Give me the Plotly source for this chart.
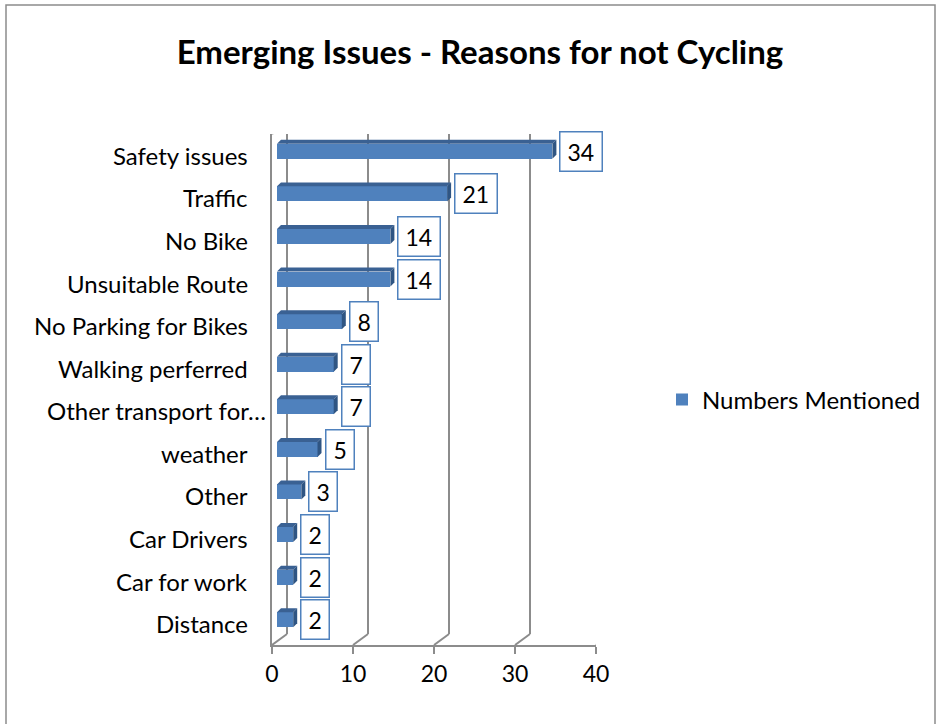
import plotly.graph_objects as go

# ---------------- data ----------------
categories = ["Safety issues", "Traffic", "No Bike", "Unsuitable Route",
              "No Parking for Bikes", "Walking perferred", "Other transport for…",
              "weather", "Other", "Car Drivers", "Car for work", "Distance"]
values = [34, 21, 14, 14, 8, 7, 7, 5, 3, 2, 2, 2]
x_ticks = [0, 10, 20, 30, 40]
series_name = "Numbers Mentioned"
title = "Emerging Issues - Reasons for not Cycling"

# ---------------- geometry / style ----------------
W, H = 939, 724
L, R, T, B = 272, 596, 134, 645          # front plane of plot area (px)
XMIN, XMAX = 0, 40
n = len(categories)
YMIN, YMAX = -0.5, n - 0.5
ux = (XMAX - XMIN) / (R - L)             # data units per px (x)
uy = (YMAX - YMIN) / (B - T)             # data units per px (y)

WALL_DX, WALL_DY = 15 * ux, 11 * uy      # depth of back wall
BAR_X0 = 5 * ux                          # bar front face offset
BAR_YS = 4 * uy                          # bar front face raised
BAR_W = 15 * uy
BAR_DX, BAR_DY = 4 * ux, 4 * uy          # bar depth

GRID = "#8C8C8C"
BLUE = "#4F81BD"
TOP = "#3A6193"
SIDE = "#2F5583"
FONT = "Lato"

pos = [n - 1 - i for i in range(n)]

def px2px(px):  # paper x from pixel
    return (px - L) / (R - L)

def py2py(py):  # paper y from pixel
    return (B - py) / (B - T)

fig = go.Figure()

fig.add_trace(go.Bar(
    y=[p + BAR_YS for p in pos], x=values, base=BAR_X0, orientation="h",
    width=BAR_W, marker=dict(color=BLUE, line=dict(width=0)),
    name=series_name, showlegend=True, hoverinfo="x"))

shapes = []
# back wall gridlines and floor diagonals
for v in x_ticks:
    shapes.append(dict(type="line", xref="x", yref="y",
                       x0=v + WALL_DX, x1=v + WALL_DX, y0=YMIN + WALL_DY, y1=YMAX + WALL_DY,
                       line=dict(color=GRID, width=2), layer="below"))
    shapes.append(dict(type="line", xref="x", yref="y",
                       x0=v, x1=v + WALL_DX, y0=YMIN, y1=YMIN + WALL_DY,
                       line=dict(color=GRID, width=2), layer="below"))
# top-left diagonal of side wall
shapes.append(dict(type="line", xref="x", yref="y",
                   x0=XMIN, x1=XMIN + WALL_DX, y0=YMAX, y1=YMAX + WALL_DY,
                   line=dict(color=GRID, width=2), layer="below"))
# y tick marks at category boundaries
for k in range(n + 1):
    yb = YMIN + k
    shapes.append(dict(type="line", xref="x", yref="y",
                       x0=XMIN - 7 * ux, x1=XMIN, y0=yb, y1=yb,
                       line=dict(color=GRID, width=2)))
# 3D faces of the bars
for p, v in zip(pos, values):
    yc = p + BAR_YS
    yb, yt = yc - BAR_W / 2, yc + BAR_W / 2
    x0, x1 = BAR_X0, BAR_X0 + v
    shapes.append(dict(type="path", xref="x", yref="y",
                       path=f"M{x0},{yt} L{x1},{yt} L{x1 + BAR_DX},{yt + BAR_DY} L{x0 + BAR_DX},{yt + BAR_DY} Z",
                       fillcolor=TOP, line=dict(width=0)))
    shapes.append(dict(type="path", xref="x", yref="y",
                       path=f"M{x1},{yb} L{x1},{yt} L{x1 + BAR_DX},{yt + BAR_DY} L{x1 + BAR_DX},{yb + BAR_DY} Z",
                       fillcolor=SIDE, line=dict(width=0)))
# outer chart border (open at bottom)
shapes.append(dict(type="path", xref="paper", yref="paper",
                   path=f"M{px2px(6)},{py2py(730)} L{px2px(6)},{py2py(5)} L{px2px(935)},{py2py(5)} L{px2px(935)},{py2py(730)}",
                   line=dict(color="#8C8C8C", width=1.5)))

annotations = []
for p, v in zip(pos, values):
    annotations.append(dict(
        x=BAR_X0 + v + BAR_DX + 3 * ux, y=p + BAR_YS, xref="x", yref="y",
        text=str(v), showarrow=False, xanchor="left", yanchor="middle",
        height=24, font=dict(family=FONT, size=23, color="black"),
        bgcolor="white", bordercolor=BLUE, borderwidth=1.5, borderpad=7))
for p, c in zip(pos, categories):
    shift = -4 if c.endswith("…") else -22
    annotations.append(dict(
        x=XMIN, y=p, xref="x", yref="y", text=c, showarrow=False,
        xanchor="right", yanchor="middle", xshift=shift,
        font=dict(family=FONT, size=24, color="black")))

fig.update_layout(
    width=W, height=H,
    margin=dict(l=L, r=W - R, t=T, b=H - B, pad=0),
    paper_bgcolor="white", plot_bgcolor="rgba(0,0,0,0)",
    title=dict(text=f"<b>{title}</b>", x=480 / W, xanchor="center",
               y=1 - 52 / H, yanchor="middle",
               font=dict(family=FONT, size=33, color="black")),
    font=dict(family=FONT, size=23, color="black"),
    xaxis=dict(range=[XMIN, XMAX], tickvals=x_ticks, showgrid=False, zeroline=False,
               showline=True, linecolor=GRID, linewidth=2,
               ticks="outside", ticklen=7, tickwidth=2, tickcolor=GRID,
               tickfont=dict(family=FONT, size=23, color="black"), fixedrange=True),
    yaxis=dict(range=[YMIN, YMAX], showticklabels=False, showgrid=False, zeroline=False,
               showline=True, linecolor=GRID, linewidth=2, ticks="", fixedrange=True),
    legend=dict(x=px2px(662), y=py2py(400), xanchor="left", yanchor="middle",
                font=dict(family=FONT, size=24, color="black"), bgcolor="rgba(0,0,0,0)"),
    shapes=shapes, annotations=annotations, bargap=0,
)

fig.write_html("out.html", config={"displayModeBar": False},
               post_script="document.body.style.margin='0px';")
